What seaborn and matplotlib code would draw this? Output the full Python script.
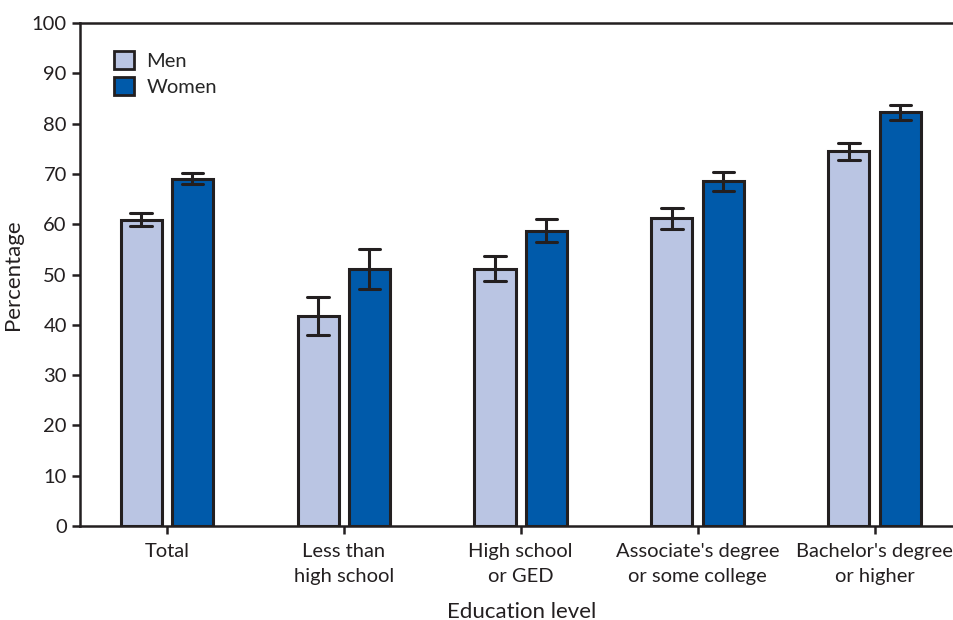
import numpy as np
import pandas as pd
import seaborn as sns
import matplotlib.pyplot as plt

categories = ["Total", "Less than\nhigh school", "High school\nor GED",
              "Associate's degree\nor some college", "Bachelor's degree\nor higher"]
men = [60.9, 41.7, 51.1, 61.2, 74.5]
men_lo = [59.7, 37.9, 48.7, 59.0, 72.8]
men_hi = [62.2, 45.5, 53.7, 63.2, 76.1]
women = [69.0, 51.1, 58.6, 68.5, 82.3]
women_lo = [68.0, 47.1, 56.4, 66.6, 80.8]
women_hi = [70.1, 55.0, 61.0, 70.4, 83.7]

# long table: lo / value / hi per bar, median = value, 100% interval = lo..hi
rows = []
for sex, vals, los, his in [("Men", men, men_lo, men_hi), ("Women", women, women_lo, women_hi)]:
    for cat, v, lo, hi in zip(categories, vals, los, his):
        for x in (lo, v, hi):
            rows.append({"Education level": cat, "Sex": sex, "Percentage": x})
df = pd.DataFrame(rows)

sns.set_style("ticks")
plt.rcParams['font.family'] = ['Lato', 'DejaVu Sans']

fig = plt.figure(figsize=(9.54, 6.2), dpi=100)
ax = fig.add_axes([0.0839, 0.1516, 0.9256, 0.8113])

sns.barplot(data=df, x="Education level", y="Percentage", hue="Sex",
            order=categories, hue_order=["Men", "Women"],
            palette={"Men": "#BAC5E3", "Women": "#005AAA"}, saturation=1,
            estimator="median", errorbar=("pi", 100),
            width=0.58, gap=0.2, capsize=0.24,
            err_kws={"color": "#231F20", "linewidth": 2.2},
            edgecolor="#231F20", linewidth=2.2, ax=ax)

ax.set_ylim(0, 100)
ax.set_xlim(-0.49, 4.5)
ax.set_yticks(np.arange(0, 101, 10))
ax.tick_params(axis="both", labelsize=14.5, width=1.8, length=6, color="#231F20",
               labelcolor="#231F20")
ax.tick_params(axis="x", pad=6)
for lbl in ax.get_xticklabels():
    lbl.set_linespacing(1.6)
for side in ["left", "bottom", "top"]:
    ax.spines[side].set_linewidth(1.8)
    ax.spines[side].set_color("#231F20")
ax.spines["right"].set_visible(False)
ax.set_ylabel("Percentage", fontsize=16, color="#231F20", labelpad=6)
ax.set_xlabel("Education level", fontsize=16, color="#231F20", labelpad=12)

leg = ax.legend(loc="upper left", bbox_to_anchor=(0.018, 0.98), frameon=False,
                fontsize=14.5, handlelength=1.0, handleheight=1.0,
                handletextpad=0.6, labelspacing=0.35)
for h in leg.legend_handles:
    h.set_edgecolor("#231F20")
    h.set_linewidth(2.0)

fig.savefig("out.png", dpi=100)
